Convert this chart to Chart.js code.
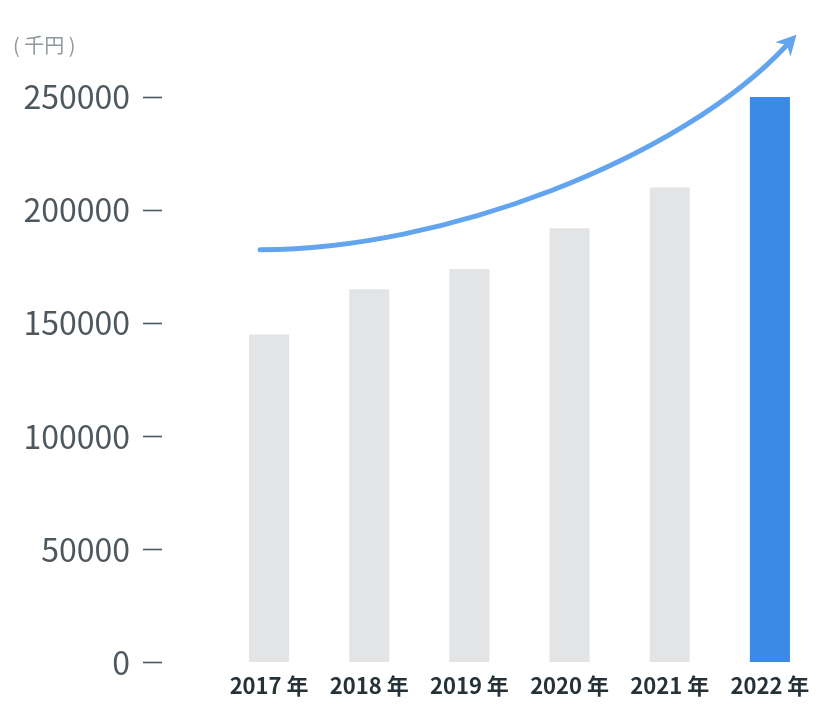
<!DOCTYPE html>
<html lang="ja">
<head>
<meta charset="utf-8">
<title>売上推移</title>
<script src="https://cdn.jsdelivr.net/npm/chart.js@4.4.1/dist/chart.umd.min.js"></script>
<style>
      html, body { margin: 0; padding: 0; background: #fff; }
      #wrap { width: 836px; height: 719px; position: relative; }
</style>
</head>
<body>
<div id="wrap"><canvas id="salesChart"></canvas></div>
<script>
const years = ["2017 年", "2018 年", "2019 年", "2020 年", "2021 年", "2022 年"];
const sales = [145000, 165000, 174000, 192000, 210000, 250000];
const yTicks = [0, 50000, 100000, 150000, 200000, 250000];

const FONT = "'Noto Sans CJK JP', 'Noto Sans', sans-serif";
const GRAY = "#e3e4e6";
const BLUE = "#3a8ae6";

// trend arrow, control points given in (category index, value)
const trendArrow = {
      id: "trendArrow",
      afterDatasetsDraw(chart) {
            const xs = chart.scales.x;
            const ys = chart.scales.y;
            const pt = (i, v) => [xs.getPixelForValue(i), ys.getPixelForValue(v)];

            const p0 = pt(-0.09, 182500);
            const p1 = pt(1.71, 182300);
            const p2 = pt(4.1, 222000);
            const p3 = pt(5.17, 273000);

            const ctx = chart.ctx;
            ctx.save();
            ctx.strokeStyle = "#62a4ee";
            ctx.fillStyle = "#62a4ee";
            ctx.lineWidth = 5;
            ctx.lineCap = "round";
            ctx.beginPath();
            ctx.moveTo(p0[0], p0[1]);
            ctx.bezierCurveTo(p1[0], p1[1], p2[0], p2[1], p3[0], p3[1]);
            ctx.stroke();

            // head
            let dx = p3[0] - p2[0];
            let dy = p3[1] - p2[1];
            const len = Math.hypot(dx, dy);
            dx /= len;
            dy /= len;
            const nx = -dy;
            const ny = dx;
            const tip = [p3[0] + dx * 14, p3[1] + dy * 14];
            const base = [tip[0] - dx * 20, tip[1] - dy * 20];
            const notch = [tip[0] - dx * 14, tip[1] - dy * 14];
            ctx.lineCap = "butt";
            ctx.beginPath();
            ctx.moveTo(tip[0], tip[1]);
            ctx.lineTo(base[0] + nx * 10.5, base[1] + ny * 10.5);
            ctx.lineTo(notch[0], notch[1]);
            ctx.lineTo(base[0] - nx * 10.5, base[1] - ny * 10.5);
            ctx.closePath();
            ctx.fill();
            ctx.restore();
      },
};

const ctx = document.getElementById("salesChart");

new Chart(ctx, {
      type: "bar",
      data: {
            labels: years,
            datasets: [
                  {
                        data: sales,
                        backgroundColor: sales.map((_, i) => (i === sales.length - 1 ? BLUE : GRAY)),
                        barPercentage: 0.4,
                        categoryPercentage: 1,
                  },
            ],
      },
      options: {
            responsive: true,
            maintainAspectRatio: false,
            animation: false,
            devicePixelRatio: 1,
            layout: { padding: { left: 13, right: 16, top: 0, bottom: 11 } },
            plugins: {
                  legend: { display: false },
                  tooltip: { enabled: false },
                  title: {
                        display: true,
                        text: "( 千円 )",
                        align: "start",
                        color: "#8f989d",
                        font: { family: FONT, size: 20, weight: "normal" },
                        padding: { top: 33, bottom: 40 },
                  },
            },
            scales: {
                  x: {
                        grid: { display: false, drawTicks: false },
                        border: { display: false },
                        ticks: {
                              color: "#263238",
                              padding: 9.5,
                              font: { family: FONT, size: 22, weight: 600 },
                        },
                  },
                  y: {
                        min: 0,
                        max: 250000,
                        afterBuildTicks(scale) {
                              scale.ticks = yTicks.map((v) => ({ value: v }));
                        },
                        afterFit(scale) {
                              scale.width = 206;
                        },
                        grid: {
                              drawOnChartArea: false,
                              tickLength: 76,
                              tickColor: "#4d585e",
                              tickWidth: 1.6,
                              tickBorderDash: [19, 300],
                        },
                        border: { display: false },
                        ticks: {
                              color: "#4d585e",
                              padding: 13,
                              font: { family: FONT, size: 32 },
                              callback: (v) => String(v),
                        },
                  },
            },
      },
      plugins: [trendArrow],
});
</script>
</body>
</html>
